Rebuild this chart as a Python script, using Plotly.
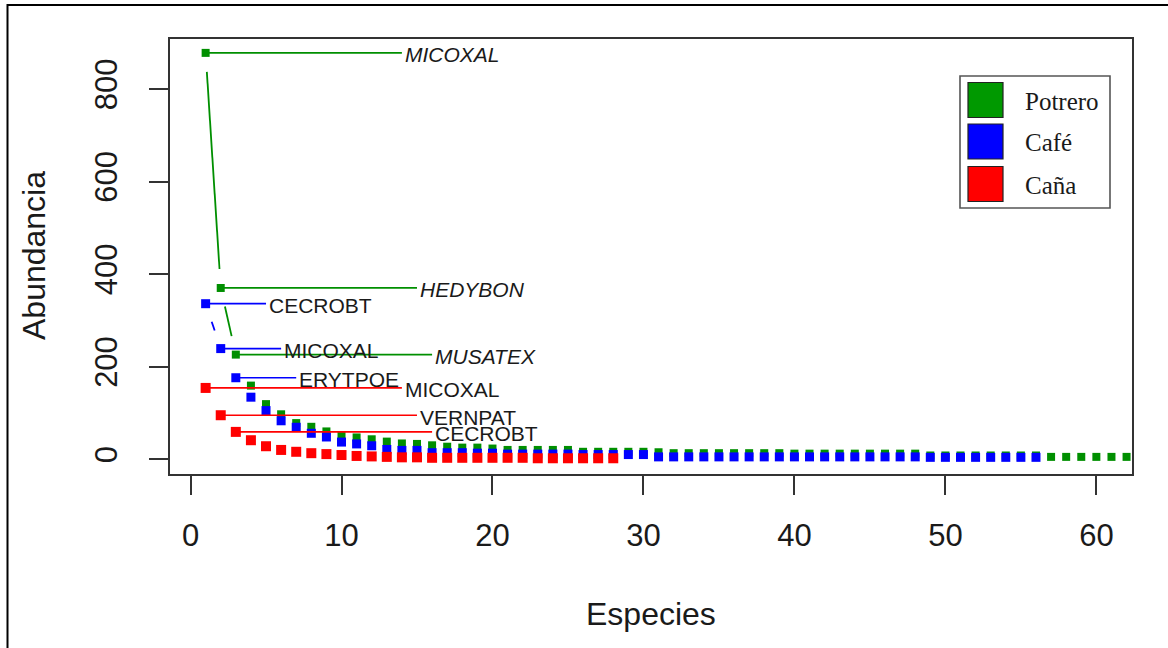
import math
import plotly.graph_objects as go

# ---------------- data ----------------
site_names = ["Potrero", "Café", "Caña"]

potrero_abund = [878, 370, 226, 159, 119, 97, 78, 70, 60, 50, 47, 43, 38, 34, 33, 30,
                 27, 25, 25, 23, 20, 20, 20, 20, 20, 16, 16, 16, 16, 16, 15, 13,
                 13, 13, 13, 13, 13, 13, 13, 12, 12, 12, 12, 12, 12, 12, 12, 12,
                 8, 8, 8, 8, 8, 8, 8, 8, 5, 5, 5, 5, 5, 5]
cafe_abund = [336, 239, 176, 134, 105, 83, 69, 56, 48, 37, 33, 29, 21, 19, 19, 14,
              14, 14, 13, 13, 11, 11, 11, 11, 11, 10, 10, 10, 10, 10, 5, 5,
              5, 5, 5, 5, 5, 5, 5, 5, 5, 5, 5, 5, 5, 5, 5, 5,
              4, 4, 4, 4, 4, 4, 4, 4]
cana_abund = [154, 95, 59, 41, 28, 20, 16, 13, 11, 9, 7, 6, 5, 4, 4, 3,
              3, 3, 3, 3, 3, 3, 2, 2, 2, 2, 2, 2]

potrero_top = ["MICOXAL", "HEDYBON", "MUSATEX"]
cafe_top = ["CECROBT", "MICOXAL", "ERYTPOE"]
cana_top = ["MICOXAL", "VERNPAT", "CECROBT"]

x_ticks = [0, 10, 20, 30, 40, 50, 60]
y_ticks = [0, 200, 400, 600, 800]

# ---------------- layout geometry ----------------
W, H = 1168, 648
M_L, M_R, M_T, M_B = 170, 36, 39, 174
PW, PH = W - M_L - M_R, H - M_T - M_B
XR = [-1.36, 62.36]
YR = [-32, 908]
PX_X = PW / (XR[1] - XR[0])
PX_Y = PH / (YR[1] - YR[0])

GREEN = "#008f00"
BLUE = "#0000ff"
RED = "#ff0000"
TXT = "#1a1a1a"
AX = "#333333"

series = [
    dict(name="Potrero", y=potrero_abund, color=GREEN, size=8, top=potrero_top, ext=13, italic=True),
    dict(name="Café", y=cafe_abund, color=BLUE, size=9, top=cafe_top, ext=4, italic=False),
    dict(name="Caña", y=cana_abund, color=RED, size=10, top=cana_top, ext=13, italic=False),
]

GAP = 19  # px gap around points (R type = "b")


def gapped_segments(xs, ys):
    sx, sy = [], []
    for i in range(len(xs) - 1):
        x1, y1, x2, y2 = xs[i], ys[i], xs[i + 1], ys[i + 1]
        dx = (x2 - x1) * PX_X
        dy = (y2 - y1) * PX_Y
        L = math.hypot(dx, dy)
        if L > 2 * GAP:
            f0, f1 = GAP / L, 1 - GAP / L
            sx += [x1 + f0 * (x2 - x1), x1 + f1 * (x2 - x1), None]
            sy += [y1 + f0 * (y2 - y1), y1 + f1 * (y2 - y1), None]
    return sx, sy


fig = go.Figure()
annotations = []

for s in series:
    ranks = list(range(1, len(s["y"]) + 1))
    sx, sy = gapped_segments(ranks, s["y"])
    fig.add_trace(go.Scatter(x=sx, y=sy, mode="lines",
                             line=dict(color=s["color"], width=1.8),
                             showlegend=False, hoverinfo="skip"))
    fig.add_trace(go.Scatter(x=ranks, y=s["y"], mode="markers", name=s["name"],
                             marker=dict(symbol="square", size=s["size"], color=s["color"],
                                         line=dict(width=0)),
                             showlegend=False))
    # label lines for the three most abundant species
    lx, ly = [], []
    for k, lab in enumerate(s["top"]):
        r = ranks[k]
        v = s["y"][k]
        lx += [r, r + s["ext"], None]
        ly += [v, v, None]
        txt = f"<i>{lab}</i>" if s["italic"] else lab
        annotations.append(dict(x=r + s["ext"], y=v, xref="x", yref="y", text=txt,
                                showarrow=False, xanchor="left", yanchor="middle",
                                xshift=1, yshift=-2,
                                font=dict(family="Liberation Sans", size=21, color=TXT)))
    fig.add_trace(go.Scatter(x=lx, y=ly, mode="lines",
                             line=dict(color=s["color"], width=1.7),
                             showlegend=False, hoverinfo="skip"))


def px2paper_x(px):
    return (px - M_L) / PW


def px2paper_y(py):
    return (H - M_B - py) / PH


shapes = []
# outer frame
shapes.append(dict(type="rect", xref="paper", yref="paper",
                   x0=px2paper_x(7.5), x1=px2paper_x(1200), y0=px2paper_y(700), y1=px2paper_y(5),
                   line=dict(color="black", width=2), fillcolor="rgba(0,0,0,0)", layer="above"))
# legend box
shapes.append(dict(type="rect", xref="paper", yref="paper",
                   x0=px2paper_x(960), x1=px2paper_x(1110), y0=px2paper_y(208), y1=px2paper_y(76),
                   line=dict(color="#555555", width=1.6), fillcolor="white", layer="above"))
leg_colors = ["#009900", BLUE, RED]
leg_centers = [100, 141.5, 184]
for name, col, cy in zip(site_names, leg_colors, leg_centers):
    shapes.append(dict(type="rect", xref="paper", yref="paper",
                       x0=px2paper_x(968), x1=px2paper_x(1003),
                       y0=px2paper_y(cy + 17.5), y1=px2paper_y(cy - 17.5),
                       line=dict(color="#222222", width=1.2), fillcolor=col, layer="above"))
    annotations.append(dict(x=px2paper_x(1023), y=px2paper_y(cy + 1), xref="paper", yref="paper",
                            text=name, showarrow=False, xanchor="left", yanchor="middle",
                            font=dict(family="Liberation Serif", size=25, color=TXT)))

# axis titles
annotations.append(dict(x=px2paper_x(651), y=px2paper_y(614), xref="paper", yref="paper",
                        text="Especies", showarrow=False, xanchor="center", yanchor="middle",
                        font=dict(family="Liberation Sans", size=32, color=TXT)))
annotations.append(dict(x=px2paper_x(34), y=px2paper_y(256), xref="paper", yref="paper",
                        text="Abundancia", showarrow=False, textangle=-90,
                        xanchor="center", yanchor="middle",
                        font=dict(family="Liberation Sans", size=32, color=TXT)))

axis_common = dict(showgrid=False, zeroline=False, showline=True, mirror=True,
                   linecolor=AX, linewidth=1.6, ticks="outside", ticklen=19,
                   tickwidth=1.6, tickcolor=AX,
                   tickfont=dict(family="Liberation Sans", size=31, color=TXT))

fig.update_layout(
    width=W, height=H, autosize=False,
    margin=dict(l=M_L, r=M_R, t=M_T, b=M_B),
    paper_bgcolor="white", plot_bgcolor="white",
    xaxis=dict(range=XR, tickvals=x_ticks, ticklabelstandoff=14, **axis_common),
    yaxis=dict(range=YR, tickvals=y_ticks, tickangle=-90, ticklabelstandoff=20, **axis_common),
    shapes=shapes, annotations=annotations, showlegend=False,
)

fig.write_html("out.html", config={"displayModeBar": False},
               post_script="document.body.style.margin='0px';document.body.style.overflow='hidden';")
